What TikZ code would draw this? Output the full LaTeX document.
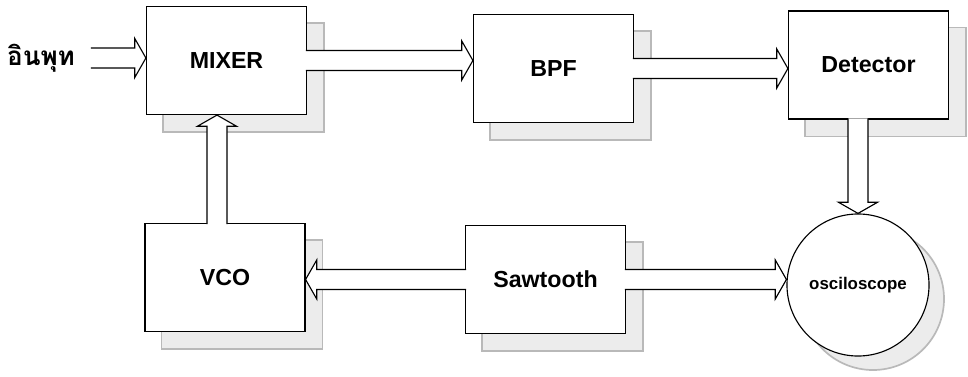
\documentclass[tikz,border=0pt]{standalone}
\usepackage{fontspec}
\setmainfont{Liberation Sans}
\newfontfamily\thaifont[Script=Thai]{Loma}
\usetikzlibrary{calc}
\pgfdeclarelayer{background}
\pgfsetlayers{background,main}
\newcommand{\FatArrow}[2]%
% start, end
{
    % demi-largeurs et longueur de la pointe
    \def\BodyW{0.25cm}
    \def\HeadW{0.49cm}
    \def\HeadL{0.28cm}

    % queue un peu dans la boite, base de la pointe
    \coordinate (T) at ($(#1)!-0.03cm!(#2)$);
    \coordinate (H) at ($(#2)!\HeadL!(#1)$);

    % fleche creuse, queue ouverte
    \draw[fill=white, line width=0.8pt, line join=miter]
        ($(T)!\BodyW!90:(#2)$) --
        ($(H)!\BodyW!90:(#2)$) --
        ($(H)!\HeadW!90:(#2)$) --
        (#2) --
        ($(H)!\HeadW!-90:(#2)$) --
        ($(H)!\BodyW!-90:(#2)$) --
        ($(T)!\BodyW!-90:(#2)$);
}

\begin{document}
\begin{tikzpicture}
[   x=0.025cm, y=-0.025cm,
    block/.style={rectangle, draw, fill=white, line width=0.8pt, minimum width=4cm, minimum height=2.7cm, inner sep=0, font=\bfseries\fontsize{16.5}{20}\selectfont},
    scope/.style={circle, draw, fill=white, line width=0.8pt, minimum size=3.55cm, inner sep=0, font=\bfseries\fontsize{12}{14}\selectfont},
    shade/.style={fill=gray!15, draw=gray!55, line width=1.2pt}
]
    \useasboundingbox (0,0) rectangle (968,376);

    \node[block] (MIXER) at (226.5,60.5) {MIXER};
    \node[block] (BPF) at (553.5,68.5) {BPF};
    \node[block] (Detector) at (868.5,65) {Detector};
    \node[block] (VCO) at (225,277.5) {VCO};
    \node[block] (Sawtooth) at (545.5,279.5) {Sawtooth};
    \node[scope] (osc) at (858,285) {osciloscope};
    \node[font=\thaifont\bfseries\fontsize{18.5}{22}\selectfont] (inlbl) at (41,58) {อินพุท};

    % ombres
    \begin{pgfonlayer}{background}
        \foreach \n in {MIXER,BPF,Detector,VCO,Sawtooth}
            \draw[shade] ($(\n.south west)+(17,17)$) rectangle ($(\n.north east)+(17,17)$);
        \draw[shade] ($(osc.center)+(15,14)$) circle (71);
    \end{pgfonlayer}

    \coordinate (in) at (92,58);
    \coordinate (vt) at ($(VCO.north)+(-8,0)$);

    \FatArrow{in}{in -| MIXER.west}
    \FatArrow{MIXER.east}{MIXER.east -| BPF.west}
    \FatArrow{BPF.east}{BPF.east -| Detector.west}
    \FatArrow{osc.north |- Detector.south}{osc.north}
    \FatArrow{vt}{vt |- MIXER.south}
    \FatArrow{Sawtooth.west}{Sawtooth.west -| VCO.east}
    \FatArrow{Sawtooth.east}{Sawtooth.east -| osc.west}
\end{tikzpicture}
\end{document}
